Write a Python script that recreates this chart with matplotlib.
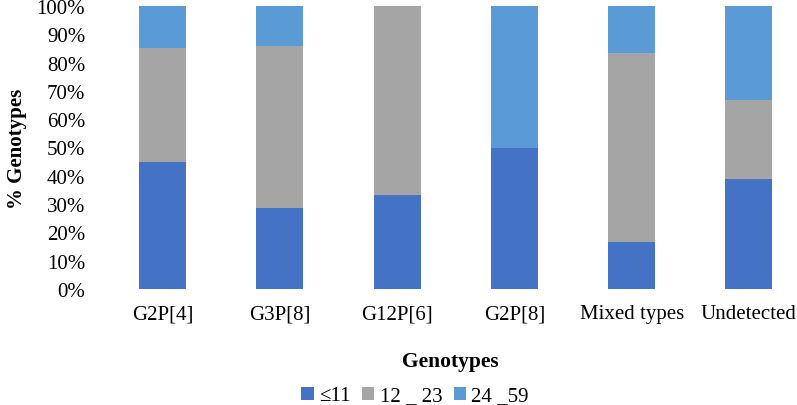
import matplotlib
matplotlib.use("Agg")
import matplotlib.pyplot as plt
from matplotlib.ticker import PercentFormatter

categories = ["G2P[4]", "G3P[8]", "G12P[6]", "G2P[8]", "Mixed types", "Undetected"]
age_le11 = [45.0, 28.6, 33.3, 50.0, 16.7, 38.9]
age_12_23 = [40.0, 57.1, 66.7, 0.0, 66.6, 27.8]
age_24_59 = [15.0, 14.3, 0.0, 50.0, 16.7, 33.3]
series_labels = ["≤11", "12 _ 23", "24 _59"]
colors = ["#4472C4", "#A5A5A5", "#5B9BD5"]

plt.rcParams['font.family'] = ['Liberation Serif', 'DejaVu Serif']

fig = plt.figure(figsize=(7.97, 4.06), dpi=100)
ax = fig.add_axes([104/797, 1 - 290/406, 1 - 104/797, 283/406])

x = list(range(len(categories)))
bottom = [0.0] * len(categories)
for vals, lab, c in zip([age_le11, age_12_23, age_24_59], series_labels, colors):
    ax.bar(x, vals, width=0.4, bottom=bottom, color=c, label=lab)
    bottom = [b + v for b, v in zip(bottom, vals)]

ax.set_xlim(-0.5, 5.41)
ax.set_ylim(0, 100)
ax.set_yticks(range(0, 101, 10))
ax.yaxis.set_major_formatter(PercentFormatter(decimals=0))
ax.set_xticks(x)
ax.set_xticklabels(categories)
ax.tick_params(axis='both', length=0, labelsize=15)
ax.tick_params(axis='y', pad=13.5)
ax.tick_params(axis='x', pad=11)
for s in ax.spines.values():
    s.set_visible(False)

ax.set_ylabel("% Genotypes", fontsize=15, fontweight='bold', labelpad=7)
ax.set_xlabel("Genotypes", fontsize=15.5, fontweight='bold', labelpad=20)

fig.legend(loc='center', bbox_to_anchor=(415/797, 1 - 397/406), ncol=3, frameon=False,
           fontsize=15, handlelength=0.6, handleheight=0.6, handletextpad=0.25,
           columnspacing=0.55, borderpad=0)

fig.savefig("out.png", dpi=100)
